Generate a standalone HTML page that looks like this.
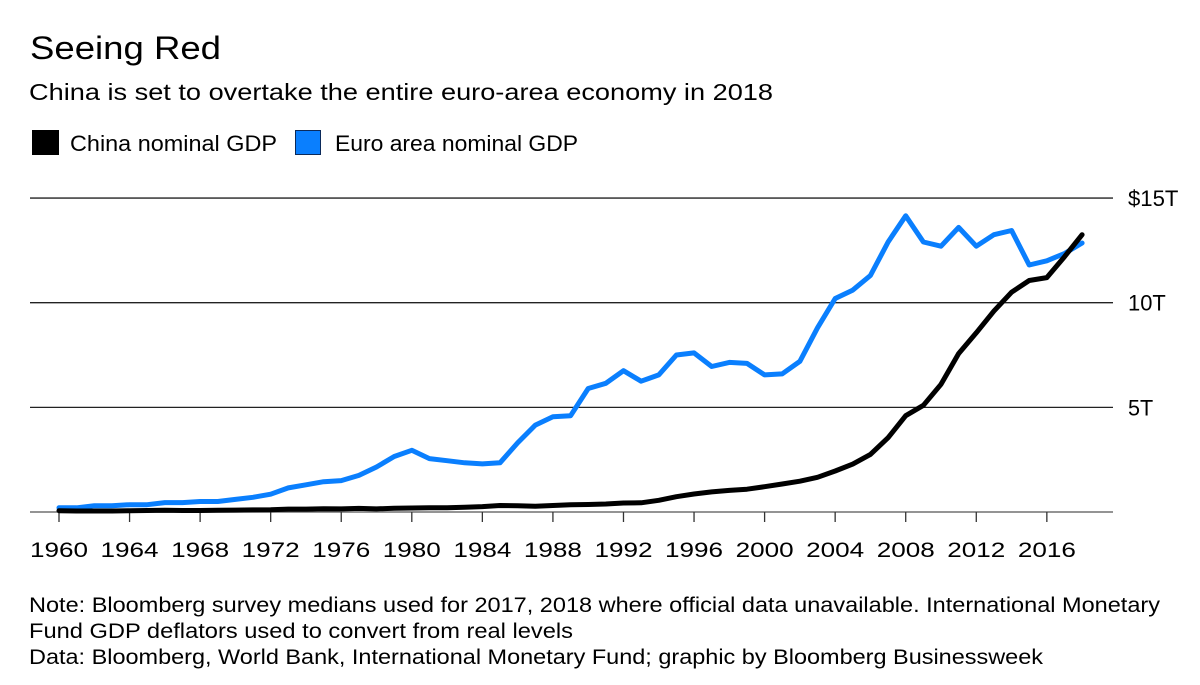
<!DOCTYPE html>
<html><head><meta charset="utf-8"><style>
body{margin:0;background:#fff;font-family:"Liberation Sans",sans-serif;color:#000}
svg{display:block}
</style></head><body>
<svg width="1200" height="685" viewBox="0 0 1200 685" id="chart">
<text x="30" y="59" font-size="32" textLength="191" lengthAdjust="spacingAndGlyphs">Seeing Red</text>
<text x="29" y="100" font-size="23" textLength="744" lengthAdjust="spacingAndGlyphs">China is set to overtake the entire euro-area economy in 2018</text>
<g>
<rect x="32" y="130" width="27" height="25" fill="#000"/>
<text x="70" y="151" font-size="22" textLength="207" lengthAdjust="spacingAndGlyphs">China nominal GDP</text>
<rect x="295.5" y="130.5" width="25" height="24" fill="#0a7ffe" stroke="#0b2a5a" stroke-width="1"/>
<text x="335" y="151" font-size="22" textLength="243" lengthAdjust="spacingAndGlyphs">Euro area nominal GDP</text>
</g>
<g id="grid"></g><g id="xaxis"></g><g id="series"></g>
<text x="29" y="612" font-size="21" textLength="1131" lengthAdjust="spacingAndGlyphs">Note: Bloomberg survey medians used for 2017, 2018 where official data unavailable. International Monetary</text>
<text x="29" y="638" font-size="21" textLength="544" lengthAdjust="spacingAndGlyphs">Fund GDP deflators used to convert from real levels</text>
<text x="29" y="664" font-size="21" textLength="1014" lengthAdjust="spacingAndGlyphs">Data: Bloomberg, World Bank, International Monetary Fund; graphic by Bloomberg Businessweek</text>
</svg>
<script>
const years = [];for(let y=1960;y<=2018;y++)years.push(y);
const euroValues = [0.2,0.2,0.3,0.3,0.35,0.35,0.45,0.45,0.5,0.5,0.6,0.7,0.85,1.15,1.3,1.45,1.5,1.75,2.15,2.65,2.95,2.55,2.45,2.35,2.3,2.35,3.3,4.15,4.55,4.6,5.9,6.15,6.75,6.25,6.55,7.5,7.6,6.95,7.15,7.1,6.55,6.6,7.2,8.8,10.2,10.6,11.3,12.9,14.15,12.9,12.7,13.6,12.7,13.25,13.45,11.8,12.0,12.35,12.85];
const chinaValues = [0.06,0.05,0.05,0.05,0.06,0.07,0.08,0.07,0.07,0.08,0.09,0.1,0.11,0.14,0.14,0.16,0.15,0.17,0.15,0.18,0.19,0.2,0.2,0.23,0.26,0.31,0.3,0.27,0.31,0.35,0.36,0.38,0.43,0.44,0.56,0.73,0.86,0.96,1.03,1.09,1.21,1.34,1.47,1.66,1.96,2.29,2.75,3.55,4.6,5.1,6.1,7.57,8.56,9.6,10.5,11.06,11.2,12.2,13.25];
const yTicks = [0,5,10,15];
const yTickLabels = ["","5T","10T","$15T"];
const xTickYears = [1960,1964,1968,1972,1976,1980,1984,1988,1992,1996,2000,2004,2008,2012,2016];

const NS="http://www.w3.org/2000/svg";
const xs = yr => 59 + (yr-1960)*17.64;
const ys = v => 512 - v*20.93;
function mk(tag,attrs,parent){const e=document.createElementNS(NS,tag);for(const k in attrs)e.setAttribute(k,attrs[k]);parent.appendChild(e);return e;}
const grid=document.getElementById('grid');
yTicks.forEach((t,i)=>{
  const l=mk('line',{x1:30,x2:1113,y1:ys(t),y2:ys(t),stroke:i===0?'#555':'#222','stroke-width':1.3},grid);
  
  
  if(yTickLabels[i]){
    const lab=yTickLabels[i];
    const tx=mk('text',{x:1128,y:ys(t)+8,'font-size':22,textLength:lab.length*12.6,lengthAdjust:'spacingAndGlyphs'},grid);
    tx.textContent=lab;
    
    
  }
});
const xa=document.getElementById('xaxis');
xTickYears.forEach(yr=>{
  const l=mk('line',{x1:xs(yr),x2:xs(yr),y1:512,y2:522,stroke:'#333','stroke-width':1.3},xa);
  
  
  const t=mk('text',{x:xs(yr)-29,y:557,'font-size':21,textLength:58,lengthAdjust:'spacingAndGlyphs'},xa);
  t.textContent=yr;
  
  
});
const sg=document.getElementById('series');
function line(vals,color,name){
  const d=vals.map((v,i)=>(i?'L':'M')+xs(years[i]).toFixed(1)+','+ys(v).toFixed(1)).join('');
  const p=mk('path',{d:d,fill:'none',stroke:color,'stroke-width':5,'stroke-linejoin':'round','stroke-linecap':'round'},sg);
  
  
}
line(euroValues,'#0a7ffe','euro-area-line');
line(chinaValues,'#000','china-line');
</script>
</body></html>
